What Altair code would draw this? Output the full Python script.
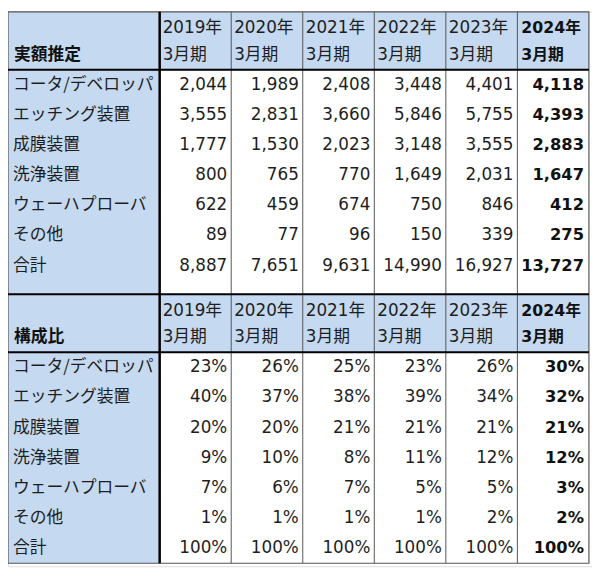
import altair as alt
import pandas as pd

# ---------------- data ----------------
categories = ["コータ/デベロッパ", "エッチング装置", "成膜装置", "洗浄装置",
              "ウェーハプローバ", "その他", "合計"]
years = ["2019年", "2020年", "2021年", "2022年", "2023年", "2024年"]
period = "3月期"
section_titles = ["実額推定", "構成比"]

amount_2019 = [2044, 3555, 1777, 800, 622, 89, 8887]
amount_2020 = [1989, 2831, 1530, 765, 459, 77, 7651]
amount_2021 = [2408, 3660, 2023, 770, 674, 96, 9631]
amount_2022 = [3448, 5846, 3148, 1649, 750, 150, 14990]
amount_2023 = [4401, 5755, 3555, 2031, 846, 339, 16927]
amount_2024 = [4118, 4393, 2883, 1647, 412, 275, 13727]

share_2019 = [23, 40, 20, 9, 7, 1, 100]
share_2020 = [26, 37, 20, 10, 6, 1, 100]
share_2021 = [25, 38, 21, 8, 7, 1, 100]
share_2022 = [23, 39, 21, 11, 5, 1, 100]
share_2023 = [26, 34, 21, 12, 5, 2, 100]
share_2024 = [30, 32, 21, 12, 3, 2, 100]

amounts = [amount_2019, amount_2020, amount_2021, amount_2022, amount_2023, amount_2024]
shares = [share_2019, share_2020, share_2021, share_2022, share_2023, share_2024]

# ---------------- layout (table geometry in column / row units) ----------------
FIRST_W = 2.12          # label column width, in year-column units
NCOL = len(years)
TOTAL_W = FIRST_W + NCOL
X_DOMAIN = 8.163
HDR = 1.92              # header height in row units
GAP = 0.45              # spacer after first section's total row
NROW = len(categories)
sec_top = [0.0, HDR + NROW + GAP]
TABLE_END = sec_top[1] + HDR + NROW
Y_DOMAIN = 18.387

BLUE = "#C5D9F1"
TXT = "#1e1e1e"

# ---------------- build tables ----------------
fills = [{"x0": 0, "x1": TOTAL_W, "y0": s, "y1": s + HDR} for s in sec_top]
fills.append({"x0": 0, "x1": FIRST_W, "y0": 0, "y1": TABLE_END})
fills_df = pd.DataFrame(fills)

thin_v = pd.DataFrame([{"x": FIRST_W + k, "y0": 0, "y1": TABLE_END} for k in range(1, NCOL)])
thick_v = pd.DataFrame([{"x": FIRST_W, "y0": 0, "y1": TABLE_END}])
thick_h = pd.DataFrame([{"y": y, "x0": 0, "x1": TOTAL_W}
                        for y in [HDR, sec_top[1], sec_top[1] + HDR]])
border = pd.DataFrame([{"x0": 0, "x1": TOTAL_W, "y0": 0, "y1": TABLE_END}])

labels, titles, heads, vals = [], [], [], []
for si, s in enumerate(sec_top):
    titles.append({"x": 0, "y": s + 1.42, "t": section_titles[si]})
    for k, yr in enumerate(years):
        bold = k == NCOL - 1
        heads.append({"x": FIRST_W + k, "y": s + 0.55, "t": yr, "b": bold})
        heads.append({"x": FIRST_W + k, "y": s + 1.42, "t": period, "b": bold})
    for r, cat in enumerate(categories):
        yc = s + HDR + r + 0.5
        labels.append({"x": 0, "y": yc, "t": cat})
        for k in range(NCOL):
            if si == 0:
                t = f"{amounts[k][r]:,}"
            else:
                t = f"{shares[k][r]}%"
            vals.append({"x": FIRST_W + k + 1, "y": yc, "t": t, "b": k == NCOL - 1})

labels_df = pd.DataFrame(labels)
titles_df = pd.DataFrame(titles)
heads_df = pd.DataFrame(heads)
vals_df = pd.DataFrame(vals)

xs = alt.Scale(domain=[0, X_DOMAIN], nice=False, zero=False)
ys = alt.Scale(domain=[0, Y_DOMAIN], nice=False, zero=False, reverse=True)


def X(f="x"):
    return alt.X(f"{f}:Q", scale=xs, axis=None)


def Y(f="y"):
    return alt.Y(f"{f}:Q", scale=ys, axis=None)


bg = alt.Chart(fills_df).mark_rect(color=BLUE).encode(
    x=X("x0"), x2="x1:Q", y=Y("y0"), y2="y1:Q")

thin = alt.Chart(thin_v).mark_rule(color="#555555", strokeWidth=1).encode(
    x=X("x"), y=Y("y0"), y2="y1:Q")

thickv = alt.Chart(thick_v).mark_rule(color="#000000", strokeWidth=2.5).encode(
    x=X("x"), y=Y("y0"), y2="y1:Q")

thickh = alt.Chart(thick_h).mark_rule(color="#000000", strokeWidth=2).encode(
    y=Y("y"), x=X("x0"), x2="x1:Q")

frame = alt.Chart(border).mark_rect(fillOpacity=0, stroke="#555555", strokeWidth=1.2).encode(
    x=X("x0"), x2="x1:Q", y=Y("y0"), y2="y1:Q")

JP = "Noto Sans CJK JP"
NUM = "DejaVu Sans"
MIX = "DejaVu Sans, Noto Sans CJK JP"

lab = alt.Chart(labels_df).mark_text(
    align="left", baseline="middle", dx=5, font=JP, fontSize=17, color=TXT
).encode(x=X(), y=Y(), text="t:N")

tit = alt.Chart(titles_df).mark_text(
    align="left", baseline="middle", dx=6, font=JP, fontSize=17, fontWeight="bold", color="#111111"
).encode(x=X(), y=Y(), text="t:N")

head_n = alt.Chart(heads_df).transform_filter("!datum.b").mark_text(
    align="left", baseline="middle", dx=3, font=MIX, fontSize=17, color=TXT
).encode(x=X(), y=Y(), text="t:N")

head_b = alt.Chart(heads_df).transform_filter("datum.b").mark_text(
    align="left", baseline="middle", dx=4, font=MIX, fontSize=16, fontWeight="bold", color="#111111"
).encode(x=X(), y=Y(), text="t:N")

val_n = alt.Chart(vals_df).transform_filter("!datum.b").mark_text(
    align="right", baseline="middle", dx=-4, font=NUM, fontSize=17, color=TXT
).encode(x=X(), y=Y(), text="t:N")

val_b = alt.Chart(vals_df).transform_filter("datum.b").mark_text(
    align="right", baseline="middle", dx=-5, font=NUM, fontSize=16.5, fontWeight="bold", color="#111111"
).encode(x=X(), y=Y(), text="t:N")

chart = alt.layer(
    bg, thin, frame, thickv, thickh, lab, tit, head_n, head_b, val_n, val_b
).properties(
    width=592, height=562, padding=0, autosize=alt.AutoSizeParams(type="none")
).configure_view(stroke=None).configure(background="white")

chart.save("out.html", embed_options={"renderer": "svg", "actions": False})
